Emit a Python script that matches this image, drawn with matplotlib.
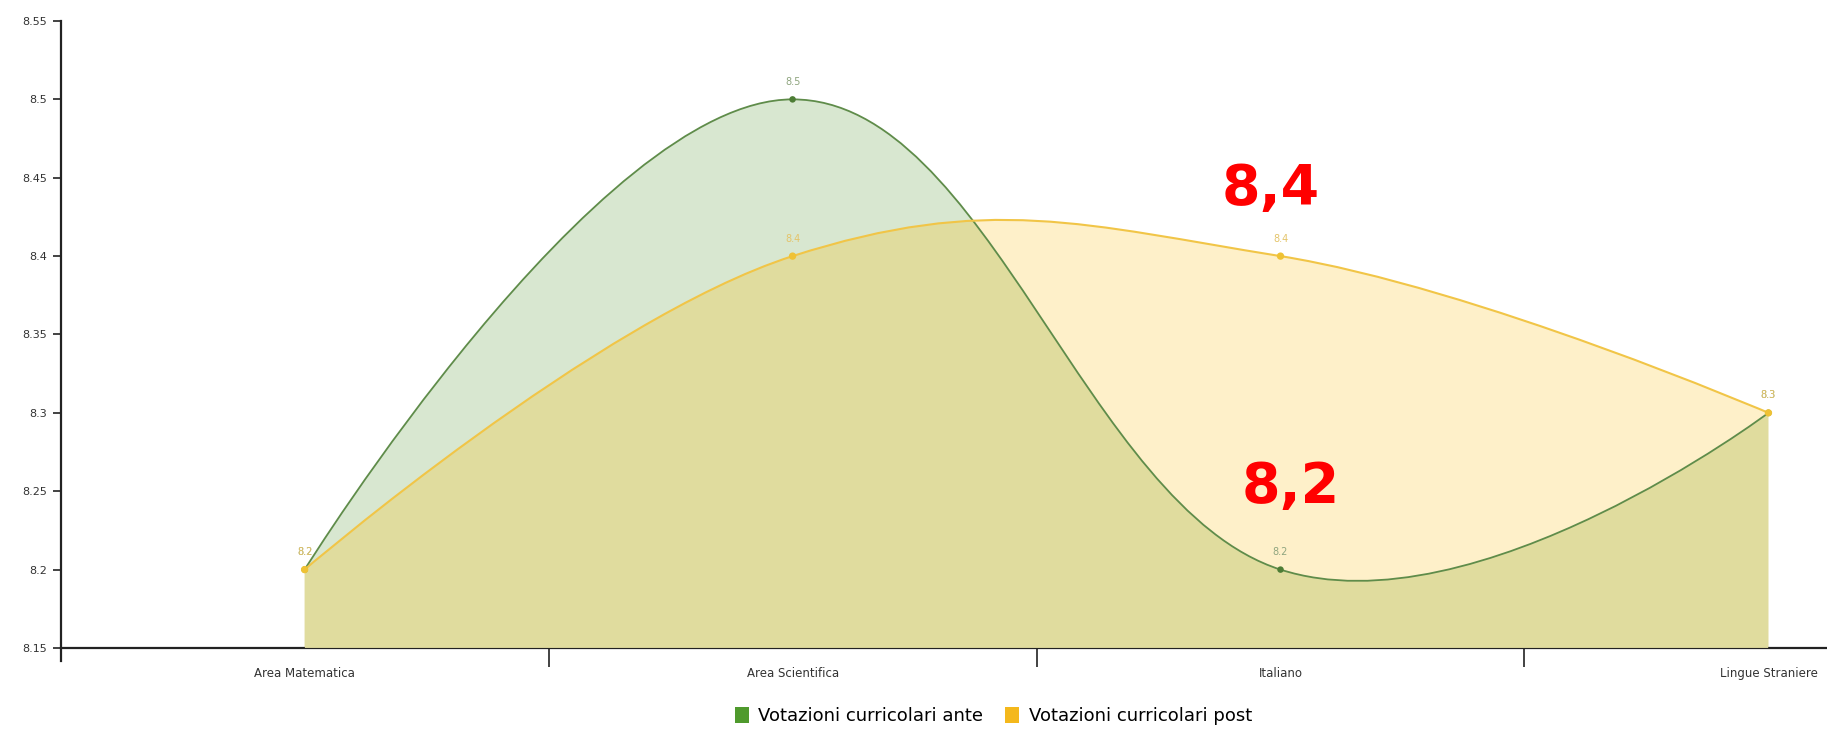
import matplotlib
matplotlib.use('Agg')
import matplotlib.pyplot as plt
from matplotlib.path import Path
from matplotlib.patches import PathPatch, Patch

# data
categories = ['Area Matematica', 'Area Scientifica', 'Italiano', 'Lingue Straniere']
ante = [8.2, 8.5, 8.2, 8.3]
post = [8.2, 8.4, 8.4, 8.3]
series_names = ['Votazioni curricolari ante', 'Votazioni curricolari post']
y_ticks = [8.15, 8.2, 8.25, 8.3, 8.35, 8.4, 8.45, 8.5, 8.55]
y_ticklabels = ['8.15', '8.2', '8.25', '8.3', '8.35', '8.4', '8.45', '8.5', '8.55']
notes = [('8,4', 1.98, 8.443), ('8,2', 2.02, 8.253)]

BASE = 8.15
NARROW = ['Liberation Sans Narrow', 'DejaVu Sans']

G_LINE, G_FILL, G_MARK, G_LEG = '#5f8c4a', '#d8e7d0', '#4d7d35', '#4f9a2d'
O_LINE, O_FILL, O_MARK, O_LEG = '#f1c547', '#fef0c9', '#efc235', '#f4b81c'
OVERLAP = '#e0dc9e'


def spline_segments(xs, ys, smoothing=1.5):
    """Bezier control points in the style of a smoothed spline chart."""
    n = len(xs)
    left, right = [None] * n, [None] * n
    d = smoothing + 1
    for i in range(1, n - 1):
        x, y = xs[i], ys[i]
        lx, ly = (smoothing * x + xs[i - 1]) / d, (smoothing * y + ys[i - 1]) / d
        rx, ry = (smoothing * x + xs[i + 1]) / d, (smoothing * y + ys[i + 1]) / d
        corr = (ry - ly) * (rx - x) / (rx - lx) + y - ry
        left[i], right[i] = (lx, ly + corr), (rx, ry + corr)
    verts, codes = [], []
    for i in range(1, n):
        c1 = right[i - 1] or (xs[i - 1], ys[i - 1])
        c2 = left[i] or (xs[i], ys[i])
        verts += [c1, c2, (xs[i], ys[i])]
        codes += [Path.CURVE4] * 3
    return verts, codes


def area_path(xs, ys):
    v, c = spline_segments(xs, ys)
    verts = [(xs[0], BASE), (xs[0], ys[0])] + v + [(xs[-1], BASE), (xs[0], BASE)]
    codes = [Path.MOVETO, Path.LINETO] + c + [Path.LINETO, Path.CLOSEPOLY]
    return Path(verts, codes)


def line_path(xs, ys):
    v, c = spline_segments(xs, ys)
    return Path([(xs[0], ys[0])] + v, [Path.MOVETO] + c)


fig = plt.figure(figsize=(18.27, 7.32), dpi=100)
ax = fig.add_axes([0.0332, 0.1148, 0.9668, 0.8565])
xs = list(range(len(categories)))

g_fill = PathPatch(area_path(xs, ante), facecolor=G_FILL, edgecolor='none', zorder=1)
o_fill = PathPatch(area_path(xs, post), facecolor=O_FILL, edgecolor='none', zorder=2)
ov_fill = PathPatch(area_path(xs, ante), facecolor=OVERLAP, edgecolor='none', zorder=3)
for p in (g_fill, o_fill, ov_fill):
    ax.add_patch(p)
ov_fill.set_clip_path(o_fill)

ax.add_patch(PathPatch(line_path(xs, ante), facecolor='none', edgecolor=G_LINE, lw=1.3, zorder=4))
ax.add_patch(PathPatch(line_path(xs, post), facecolor='none', edgecolor=O_LINE, lw=1.5, zorder=5))
ax.scatter(xs, ante, s=22, color=G_MARK, zorder=6, edgecolors='none')
ax.scatter(xs, post, s=28, color=O_MARK, zorder=7, edgecolors='none')

# data labels
for x, a, p in zip(xs, ante, post):
    ax.annotate(f'{a:g}', (x, a), xytext=(0, 9), textcoords='offset points',
                ha='center', va='bottom', fontsize=7, color='#8fa57f', zorder=8)
    ax.annotate(f'{p:g}', (x, p), xytext=(0, 9), textcoords='offset points',
                ha='center', va='bottom', fontsize=7, color='#e4c46a', zorder=9)

for txt, x, y in notes:
    ax.text(x, y, txt, color='#ff0000', fontsize=40, fontweight='bold',
            family='DejaVu Sans', ha='center', va='center', zorder=10)

ax.set_xlim(-0.5, 3.12)
ax.set_ylim(BASE, 8.55)
ax.set_yticks(y_ticks)
ax.set_yticklabels(y_ticklabels, family=NARROW, fontsize=8, color='#333333')
ax.set_xticks(xs)
ax.set_xticklabels(categories, family=NARROW, fontsize=8.5, color='#333333')
ax.tick_params(axis='x', length=0, pad=14)
ax.set_xticks([0.5, 1.5, 2.5], minor=True)
ax.tick_params(axis='x', which='minor', length=14, width=1.2, color='#222222')
ax.tick_params(axis='y', length=6, width=1.2, color='#222222', pad=4)

for s in ('top', 'right'):
    ax.spines[s].set_visible(False)
for s in ('left', 'bottom'):
    ax.spines[s].set_linewidth(1.6)
    ax.spines[s].set_color('#222222')
ax.spines['left'].set_bounds(8.142, 8.55)

handles = [Patch(facecolor=G_LEG, edgecolor='none'), Patch(facecolor=O_LEG, edgecolor='none')]
fig.legend(handles, series_names, loc='center', bbox_to_anchor=(0.5437, 0.022),
           ncol=2, frameon=False, handlelength=0.8, handleheight=1.0, handletextpad=0.5,
           columnspacing=1.2, prop={'family': NARROW, 'size': 13})

fig.savefig('out.png', dpi=100)
